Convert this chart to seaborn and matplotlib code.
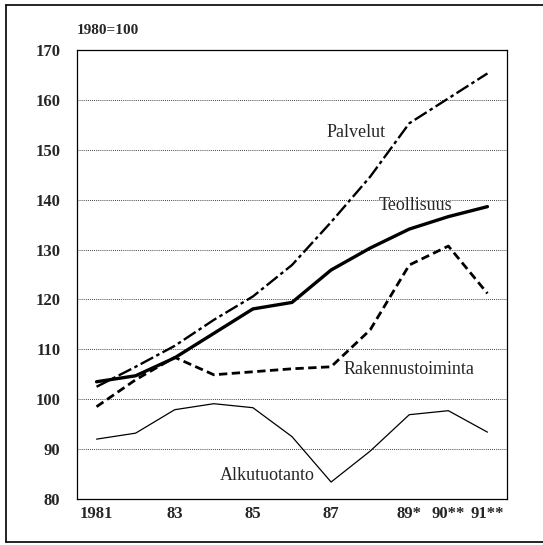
import numpy as np
import pandas as pd
import matplotlib
matplotlib.use("Agg")
import matplotlib.pyplot as plt
import seaborn as sns
from matplotlib.lines import Line2D

# data (index 1980=100)
years = ["1981", "82", "83", "84", "85", "86", "87", "88", "89*", "90**", "91**"]
tick_labels = ["1981", "", "83", "", "85", "", "87", "", "89*", "90**", "91**"]
palvelut = [102.5, 106.5, 110.7, 115.9, 120.6, 126.9, 135.5, 144.6, 155.3, 160.3, 165.3]
teollisuus = [103.5, 104.7, 108.3, 113.2, 118.1, 119.4, 125.9, 130.3, 134.1, 136.6, 138.6]
rakennus = [98.5, 103.9, 108.4, 104.9, 105.5, 106.1, 106.5, 113.9, 126.9, 130.7, 121.2]
alkutuotanto = [92.0, 93.2, 97.9, 99.1, 98.3, 92.5, 83.4, 89.6, 96.9, 97.7, 93.4]

sns.set_style("white")
plt.rcParams["font.family"] = ["Liberation Serif", "DejaVu Serif"]

x = np.arange(len(years))
df = pd.DataFrame({"x": x, "Palvelut": palvelut, "Teollisuus": teollisuus,
                   "Rakennustoiminta": rakennus, "Alkutuotanto": alkutuotanto})

fig = plt.figure(figsize=(5.43, 5.45), dpi=100)
ax = fig.add_axes([0.1418, 0.0844, 0.7919, 0.8239])

styles = {
    "Palvelut": dict(lw=1.7, dashes=(6, 1.5, 1.5, 1.5)),
    "Teollisuus": dict(lw=2.4, dashes=None),
    "Rakennustoiminta": dict(lw=2.0, dashes=(3, 1.6)),
    "Alkutuotanto": dict(lw=0.9, dashes=None),
}
for name, st in styles.items():
    sns.lineplot(data=df, x="x", y=name, ax=ax, color="black", lw=st["lw"])
    if st["dashes"] is not None:
        ax.lines[-1].set_dashes(st["dashes"])

ax.set_xlim(-0.5, len(years) - 0.5)
ax.set_ylim(80, 170)
ax.set_yticks(np.arange(80, 171, 10))
ax.set_xticks(x)
ax.set_xticklabels(tick_labels, fontweight="bold", fontsize=12)
ax.set_xticks(np.arange(-0.5, len(years), 1), minor=True)
ax.tick_params(axis="x", which="major", length=0, pad=5)
ax.tick_params(axis="x", which="minor", direction="inout", length=9, width=0.9, color="black")
ax.tick_params(axis="y", which="major", direction="out", length=7, width=0.9, color="black", pad=5)
for lab in ax.get_yticklabels():
    lab.set_fontweight("bold")
    lab.set_fontsize(12)
ax.set_xlabel("")
ax.set_ylabel("")
ax.grid(axis="y", color="black", linestyle=(0, (1, 1.5)), lw=0.6)
for sp in ax.spines.values():
    sp.set_color("black")
    sp.set_linewidth(0.9)

ax.text(0.0, 1.03, "1980=100", transform=ax.transAxes, fontsize=11,
        fontweight="bold", ha="left", va="bottom")

ax.text(6.65, 153.4, "Palvelut", fontsize=13, ha="center", va="center")
ax.text(8.16, 138.9, "Teollisuus", fontsize=13, ha="center", va="center")
ax.text(7.98, 105.9, "Rakennustoiminta", fontsize=13, ha="center", va="center")
ax.text(4.37, 84.8, "Alkutuotanto", fontsize=13, ha="center", va="center")

# outer frame (left, top, bottom edges)
fx0, fy0, fy1 = 5.5 / 543, 1 - 541.5 / 545, 1 - 4.5 / 545
fig.add_artist(Line2D([fx0, fx0], [fy0, fy1], color="black", lw=1.2, transform=fig.transFigure))
fig.add_artist(Line2D([fx0, 1], [fy1, fy1], color="black", lw=1.2, transform=fig.transFigure))
fig.add_artist(Line2D([fx0, 1], [fy0, fy0], color="black", lw=1.2, transform=fig.transFigure))

fig.savefig("out.png", dpi=100)
